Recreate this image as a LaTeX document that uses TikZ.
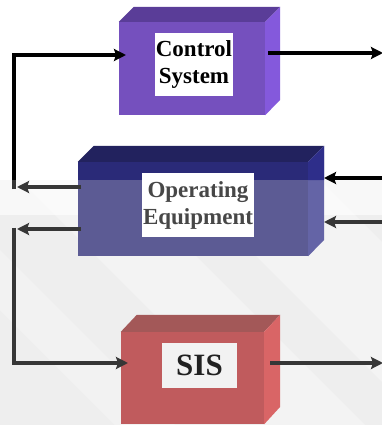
\documentclass[tikz,border=0pt]{standalone}
\usepackage{fontspec}
\setmainfont{Liberation Serif}
\usetikzlibrary{arrows.meta}

% box colours: front, top, side
\definecolor{csfront}{HTML}{7550BE}
\definecolor{cstop}{HTML}{5A3D98}
\definecolor{csside}{HTML}{8459DC}
\definecolor{oetop}{HTML}{22225E}
\definecolor{oeband}{HTML}{2A2A78}
\definecolor{oefront}{HTML}{5C5B94}
\definecolor{oesideup}{HTML}{2E2E8A}
\definecolor{oeside}{HTML}{6464A6}
\definecolor{sistop}{HTML}{A35858}
\definecolor{sisfront}{HTML}{C05B5D}
\definecolor{sisside}{HTML}{D96566}
\definecolor{bggray}{HTML}{EEEEEE}
\definecolor{lowline}{HTML}{363636}

\begin{document}
\begin{tikzpicture}[x=1pt,y=-1pt,
  face/.style={draw=none, inner sep=0pt},
  tag/.style={inner sep=1pt, align=center, font=\bfseries\fontsize{23}{27}\selectfont},
  conn/.style={line width=3.2pt, -{Stealth[length=12pt,width=12pt,inset=2pt]}},
  wire/.style={line width=3.2pt}]
\useasboundingbox (0,0) rectangle (382,425);

% background: white above, soft grey with pale diagonal streaks below
\fill[white] (0,0) rectangle (382,425);
\fill[bggray] (0,180) rectangle (382,425);
\begin{scope}
  \clip (0,180) rectangle (382,425);
  \fill[white, opacity=0.6] (0,180) rectangle (382,215);
  \fill[white, opacity=0.3] (20,180) -- (120,180) -- (382,442) -- (282,442) -- cycle;
  \fill[white, opacity=0.3] (180,180) -- (320,180) -- (382,242) -- (382,382) -- cycle;
  \fill[white, opacity=0.25] (0,310) -- (0,250) -- (175,425) -- (115,425) -- cycle;
\end{scope}

% Control System block
\node[face, fill=csfront, minimum width=146pt, minimum height=93pt] (cs) at (192,68.5) {};
\fill[cstop] (cs.north west) -- ++(15,-15) -- ([shift={(15,-15)}]cs.north east) -- (cs.north east) -- cycle;
\fill[csside] (cs.north east) -- ++(15,-15) -- ++(0,93) -- (cs.south east) -- cycle;
\node[tag, fill=white, minimum width=78pt, minimum height=63pt] (cslabel) at (194,64.5) {Control\\System};

% Operating Equipment block
\node[face, fill=oefront, minimum width=230pt, minimum height=94pt] (oe) at (193,209) {};
\fill[oeband] (oe.north west) rectangle (308,180);
\fill[oetop] (oe.north west) -- ++(16,-16) -- ([shift={(16,-16)}]oe.north east) -- (oe.north east) -- cycle;
\fill[oeside] (oe.north east) -- ++(16,-16) -- ++(0,94) -- (oe.south east) -- cycle;
\fill[oesideup] (oe.north east) -- ++(16,-16) -- (324,180) -- (308,180) -- cycle;
\node[tag, fill=white, text=black!72, minimum width=106pt, minimum height=64pt] (oelabel) at (198,205) {Operating\\Equipment};

% SIS block
\node[face, fill=sisfront, minimum width=143pt, minimum height=92pt] (sis) at (192.5,378) {};
\fill[sistop] (sis.north west) -- ++(16,-17) -- ([shift={(16,-17)}]sis.north east) -- (sis.north east) -- cycle;
\fill[sisside] (sis.north east) -- ++(16,-17) -- ++(0,92) -- (sis.south east) -- cycle;
\node[inner sep=0pt, fill=white!95!black, text=black!87, font=\bfseries\fontsize{31}{31}\selectfont,
      minimum width=75pt, minimum height=45pt] (sislabel) at (199.5,365.5) {SIS};

% connector end points
\coordinate (loopA) at (14,189);
\coordinate (csin) at (126,55);
\coordinate (csout) at (268,53);
\coordinate (csfar) at (383,53);
\coordinate (oeoutA) at (81,187);
\coordinate (oeendA) at (17,187);
\coordinate (oeoutB) at (81,229);
\coordinate (oeendB) at (17,229);
\coordinate (loopB) at (14,227.5);
\coordinate (sisin) at (128,363);
\coordinate (farA) at (382,178);
\coordinate (oeinA) at (324,178);
\coordinate (farB) at (382,222);
\coordinate (oeinB) at (324,222);
\coordinate (sisout) at (270,363);
\coordinate (sisfar) at (383,363);

% feedback into Control System and its output
\draw[conn, black] (loopA) |- (csin);
\draw[wire, lowline] (14,180) -- (loopA);
\draw[conn, black] (csout) -- (csfar);

% outputs of Operating Equipment and inputs from the right
\draw[conn, lowline] (oeoutA) -- (oeendA);
\draw[conn, lowline] (oeoutB) -- (oeendB);
\draw[conn, black] (farA) -- (oeinA);
\draw[conn, lowline] (farB) -- (oeinB);

% path into SIS and its output
\draw[conn, lowline] (loopB) |- (sisin);
\draw[conn, lowline] (sisout) -- (sisfar);
\end{tikzpicture}
\end{document}
